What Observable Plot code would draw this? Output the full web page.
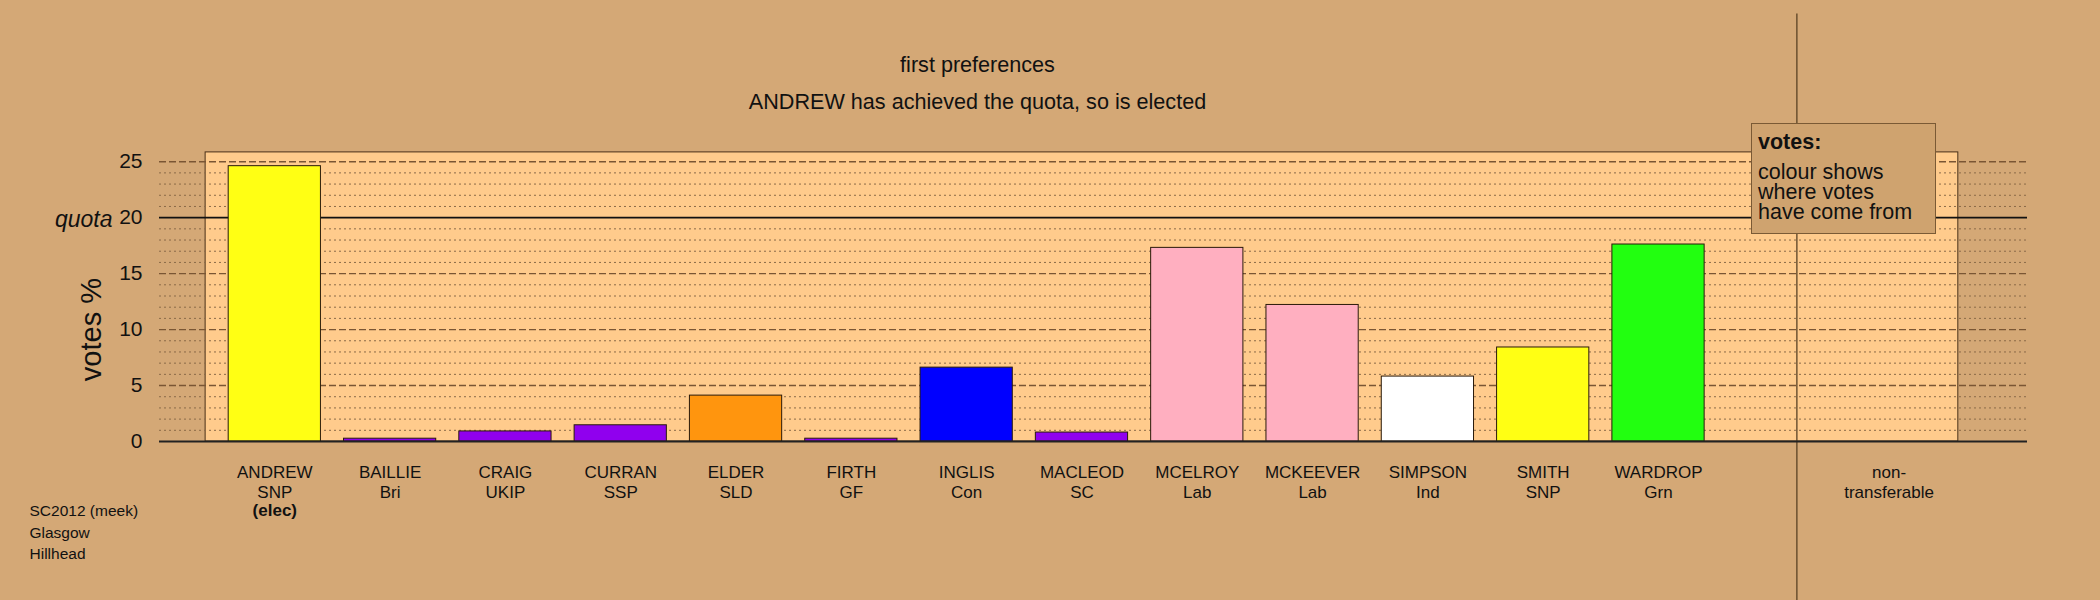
<!DOCTYPE html>
<html>
<head>
<meta charset="utf-8">
<script src="https://cdn.jsdelivr.net/npm/d3@7"></script>
<script src="https://cdn.jsdelivr.net/npm/@observablehq/plot@0.6"></script>
<style>
  html, body { margin: 0; padding: 0; background: #d4a876; }
  #wrap { position: relative; width: 2100px; height: 600px; background: #d4a876; font-family: "Liberation Sans", Arial, sans-serif; color: #111; }
  #legend { position: absolute; left: 1751px; top: 123px; width: 185px; height: 111px; box-sizing: border-box;
            background: #cfa36f; border: 1.5px solid #7a5a35; }
  #legend div { position: absolute; left: 6px; font-size: 21.5px; line-height: 21px; white-space: nowrap; }
</style>
</head>
<body>
<div id="wrap">
  <div id="chart"></div>
  <div id="legend">
    <div style="top:8px;font-weight:bold;">votes:</div>
    <div style="top:38px;">colour shows</div>
    <div style="top:58px;">where votes</div>
    <div style="top:78px;">have come from</div>
  </div>
</div>
<script>
// ---- data ----
const candidates = ["ANDREW","BAILLIE","CRAIG","CURRAN","ELDER","FIRTH","INGLIS","MACLEOD","MCELROY","MCKEEVER","SIMPSON","SMITH","WARDROP"];
const parties    = ["SNP","Bri","UKIP","SSP","SLD","GF","Con","SC","Lab","Lab","Ind","SNP","Grn"];
const votes      = [24.6, 0.25, 0.9, 1.45, 4.1, 0.25, 6.6, 0.8, 17.3, 12.2, 5.8, 8.4, 17.6];
const colours    = ["#ffff14","#9000ee","#9000ee","#9000ee","#ff950e","#9000ee","#0000ff","#9000ee","#ffafc0","#ffafc0","#ffffff","#ffff14","#22ff10"];
const elected    = ["ANDREW"];
const nonTransferableLabel = "non-\ntransferable";
const nonTransferableVotes = 0;
const quota      = 20;
const yTicks     = [0, 5, 10, 15, 20, 25];
const dashedTicks = [5, 10, 15, 25];
const dottedTicks = [1,2,3,4,6,7,8,9,11,12,13,14,16,17,18,19,21,22,23,24];
const titleText    = "first preferences";
const subtitleText = "ANDREW has achieved the quota, so is elected";
const infoText     = "SC2012 (meek)\nGlasgow\nHillhead";

// ---- table built from the arrays ----
const rows = candidates.map((name, i) => ({slot: i, name, party: parties[i], votes: votes[i], colour: colours[i]}));
const ntSlot = candidates.length + 1;
const separatorSlot = ntSlot - 0.8;
const panel = {x1: -0.6, x2: ntSlot + 0.6, y1: 0, y2: 25.83};

const chart = Plot.plot({
  width: 2100, height: 600,
  marginLeft: 159, marginRight: 73, marginTop: 150, marginBottom: 159,
  x: {type: "linear", domain: [-1, 15.2], axis: null},
  y: {domain: [0, 26], axis: null},
  color: {type: "identity"},
  style: {background: "transparent", fontFamily: "'Liberation Sans', Arial, sans-serif", color: "#111", overflow: "visible"},
  marks: [
    Plot.rect([panel], {x1: "x1", x2: "x2", y1: "y1", y2: "y2", fill: "#ffcb8c", stroke: "#4a3018", strokeWidth: 1}),
    Plot.ruleX([separatorSlot], {x: d => d, y1: -14.2, y2: 38.2, stroke: "#5a4224", strokeWidth: 1.3}),
    Plot.ruleY(dottedTicks, {stroke: "#8a6a48", strokeDasharray: "2,3", strokeWidth: 1}),
    Plot.ruleY(dashedTicks, {stroke: "#7a5634", strokeDasharray: "7,3", strokeWidth: 1.4}),
    Plot.ruleY([quota], {stroke: "#111", strokeWidth: 1.6}),
    Plot.rectY(rows.filter(d => d.votes > 0), {x1: d => d.slot - 0.4, x2: d => d.slot + 0.4, y1: 0, y2: "votes", fill: "colour", stroke: "#2a1a0a", strokeWidth: 1}),
    Plot.ruleY([0], {stroke: "#222", strokeWidth: 2}),
    Plot.axisY({ticks: yTicks, tickSize: 0, tickPadding: 17, fontSize: 21, label: null}),
    Plot.text([quota], {y: d => d, text: () => "quota", frameAnchor: "left", dx: -47, dy: 2, textAnchor: "end", fontStyle: "italic", fontSize: 23}),
    Plot.text([10], {y: d => d, text: () => "votes %", frameAnchor: "left", dx: -68, rotate: -90, textAnchor: "middle", fontSize: 29}),
    Plot.text(rows, {x: "slot", text: d => d.name + "\n" + d.party, frameAnchor: "bottom", dy: 23, lineAnchor: "top", fontSize: 17, lineHeight: 1.15}),
    Plot.text(rows.filter(d => elected.includes(d.name)), {x: "slot", text: () => "(elec)", frameAnchor: "bottom", dy: 62, lineAnchor: "top", fontSize: 17, fontWeight: "bold"}),
    Plot.text([nonTransferableLabel], {x: () => ntSlot, text: d => d, frameAnchor: "bottom", dy: 23, lineAnchor: "top", fontSize: 17, lineHeight: 1.15}),
    Plot.text([titleText], {text: d => d, frameAnchor: "top-left", dx: 818, dy: -94, textAnchor: "middle", fontSize: 21.6}),
    Plot.text([subtitleText], {text: d => d, frameAnchor: "top-left", dx: 818, dy: -57, textAnchor: "middle", fontSize: 21.6}),
    Plot.text([infoText], {text: d => d, frameAnchor: "bottom-left", dx: -130, dy: 59, textAnchor: "start", lineAnchor: "top", fontSize: 15.5, lineHeight: 1.4})
  ]
});
document.getElementById("chart").appendChild(chart);
</script>
</body>
</html>
